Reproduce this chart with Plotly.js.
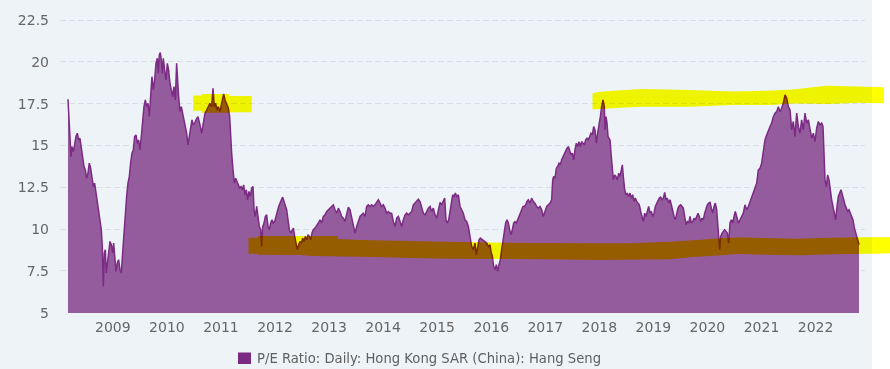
<!DOCTYPE html>
<html>
<head>
<meta charset="utf-8">
<script src="https://cdn.plot.ly/plotly-3.0.1.min.js"></script>
<style>
  html, body { margin: 0; padding: 0; background: #ffffff; }
  #chart { width: 890px; height: 369px; }
  .layer-above .shapelayer path { mix-blend-mode: multiply; }
</style>
</head>
<body>
<div id="chart"></div>
<script>
// ---- DATA ----
// time in decimal years
const t = [
2008.170,2008.189,2008.207,2008.226,2008.244,2008.269,2008.293,2008.318,2008.343,2008.367,
2008.392,2008.417,2008.441,2008.466,2008.491,2008.515,2008.540,2008.565,2008.589,2008.614,
2008.639,2008.663,2008.688,2008.713,2008.737,2008.762,2008.787,2008.805,2008.824,2008.842,
2008.861,2008.879,2008.904,2008.929,2008.947,2008.972,2008.996,2009.015,2009.033,2009.058,
2009.083,2009.107,2009.132,2009.157,2009.181,2009.206,2009.231,2009.255,2009.280,2009.305,
2009.329,2009.354,2009.379,2009.403,2009.428,2009.453,2009.477,2009.502,2009.527,2009.551,
2009.576,2009.601,2009.625,2009.650,2009.675,2009.699,2009.724,2009.749,2009.773,2009.798,
2009.823,2009.841,2009.860,2009.878,2009.897,2009.915,2009.934,2009.958,2009.983,2010.008,
2010.032,2010.057,2010.082,2010.106,2010.131,2010.156,2010.180,2010.199,2010.217,2010.242,
2010.267,2010.291,2010.316,2010.341,2010.365,2010.390,2010.415,2010.439,2010.464,2010.489,
2010.513,2010.538,2010.575,
2010.612,2010.643,2010.674,2010.705,2010.736,2010.767,2010.797,2010.828,2010.853,2010.877,
2010.902,2010.927,2010.952,2010.982,2011.013,2011.050,2011.075,2011.106,2011.137,2011.161,
2011.174,2011.198,2011.223,2011.248,2011.272,2011.297,2011.322,2011.346,2011.371,2011.396,
2011.420,2011.445,2011.470,2011.494,2011.519,2011.544,2011.568,2011.593,2011.612,2011.636,
2011.661,2011.686,2011.710,2011.735,2011.753,2011.772,2011.797,2011.821,2011.846,2011.871,
2011.895,2011.920,2011.945,2011.969,2011.994,2012.019,2012.043,2012.068,2012.093,2012.117,
2012.142,2012.167,2012.191,2012.216,2012.241,2012.265,2012.290,2012.315,2012.339,2012.364,
2012.389,2012.413,2012.438,2012.463,2012.487,2012.512,2012.537,2012.561,2012.586,2012.611,
2012.635,2012.660,2012.685,2012.709,2012.740,2012.771,2012.802,2012.833,2012.863,2012.894,
2012.925,2012.956,2012.987,2013.018,
2013.048,2013.079,2013.110,2013.141,2013.172,2013.203,2013.233,2013.264,2013.295,2013.326,
2013.357,2013.388,2013.418,2013.449,2013.480,2013.511,2013.542,2013.573,2013.603,2013.634,
2013.665,2013.696,2013.727,2013.758,2013.788,2013.819,2013.850,2013.881,2013.912,2013.943,
2013.973,2014.004,2014.035,2014.066,2014.097,2014.128,2014.158,2014.189,2014.220,2014.251,
2014.282,2014.313,2014.343,2014.374,2014.405,2014.436,2014.467,2014.498,2014.528,2014.559,
2014.590,2014.621,2014.652,2014.683,2014.713,2014.744,2014.775,2014.806,2014.837,2014.868,
2014.898,2014.929,2014.960,2014.991,2015.022,2015.053,2015.083,2015.114,2015.139,2015.163,
2015.188,2015.213,2015.238,2015.262,2015.287,2015.312,2015.337,2015.361,2015.392,2015.423,
2015.453,2015.484,
2015.515,2015.546,2015.577,2015.608,2015.638,2015.669,2015.700,2015.725,2015.749,2015.774,
2015.799,2015.823,2015.854,2015.885,2015.916,2015.947,2015.978,2015.996,2016.021,2016.045,
2016.070,2016.095,2016.119,2016.144,2016.169,2016.193,2016.218,2016.243,2016.267,2016.292,
2016.317,2016.341,2016.366,2016.391,2016.415,2016.440,2016.465,2016.489,2016.514,2016.539,
2016.563,2016.588,2016.613,2016.637,2016.662,2016.687,2016.718,2016.748,2016.779,2016.810,
2016.841,2016.872,2016.903,2016.933,2016.964,2016.995,2017.026,2017.057,2017.088,2017.118,
2017.137,2017.155,2017.180,2017.205,2017.229,2017.254,2017.279,2017.303,2017.328,2017.353,
2017.377,2017.402,2017.427,2017.451,2017.476,2017.501,2017.525,2017.550,2017.575,2017.599,
2017.624,2017.649,2017.673,2017.698,2017.723,2017.747,2017.772,2017.797,2017.821,2017.846,
2017.871,2017.895,2017.920,2017.945,2017.969,2017.994,2018.019,2018.043,2018.068,2018.093,
2018.105,
2018.124,2018.142,2018.161,2018.179,2018.198,2018.216,2018.235,2018.259,2018.284,2018.309,
2018.333,2018.358,2018.383,2018.407,2018.426,2018.444,2018.469,2018.494,2018.518,2018.543,
2018.568,2018.592,2018.617,2018.642,2018.666,2018.691,2018.716,2018.740,2018.765,2018.790,
2018.814,2018.839,2018.864,2018.888,2018.913,2018.938,2018.962,2018.987,2019.012,2019.036,
2019.061,2019.086,2019.110,2019.135,2019.160,2019.184,2019.209,2019.234,2019.258,2019.283,
2019.308,2019.332,2019.357,2019.382,2019.406,2019.431,2019.456,2019.480,2019.505,2019.530,
2019.554,2019.579,2019.604,2019.628,2019.653,2019.678,2019.702,2019.727,2019.752,2019.776,
2019.801,2019.826,2019.850,2019.875,2019.900,2019.924,2019.949,2019.974,2019.998,2020.023,
2020.048,2020.072,2020.097,2020.122,2020.146,2020.171,2020.189,2020.208,2020.226,2020.245,
2020.270,2020.294,2020.319,2020.344,2020.368,2020.393,2020.418,2020.442,2020.467,2020.492,
2020.516,
2020.541,2020.572,2020.603,2020.633,2020.664,2020.695,2020.726,2020.757,2020.788,2020.818,
2020.849,2020.880,2020.911,2020.942,2020.973,2021.003,2021.034,2021.065,2021.096,2021.127,
2021.158,2021.188,2021.219,2021.250,2021.281,2021.312,2021.343,2021.373,2021.404,2021.435,
2021.466,2021.497,2021.528,2021.558,2021.589,2021.620,2021.651,2021.682,2021.713,2021.743,
2021.774,2021.805,2021.836,2021.867,2021.898,2021.928,2021.959,2021.990,2022.021,2022.052,
2022.083,2022.113,2022.138,2022.157,2022.175,2022.200,2022.224,2022.249,2022.274,2022.298,
2022.323,2022.348,2022.372,2022.397,2022.422,2022.446,2022.471,2022.496,2022.520,2022.545,
2022.570,2022.594,2022.619,2022.644,2022.668,2022.693,2022.718,2022.742,2022.767,2022.792,
2022.804
];
// P/E ratio values
const pe = [
17.76,16.53,15.33,14.33,14.93,14.63,15.03,15.53,15.73,15.33,
15.43,14.73,14.44,13.74,13.54,13.04,13.34,13.94,13.64,12.94,
12.54,12.74,12.15,11.55,11.15,10.55,9.96,8.96,6.57,8.57,
8.76,7.37,8.17,8.57,9.26,9.06,8.57,9.16,8.36,7.47,
7.97,8.17,7.57,7.37,8.57,9.76,11.35,11.95,12.74,13.14,
13.94,14.54,14.73,15.53,15.63,15.13,15.33,14.73,15.53,16.72,
17.32,17.72,17.32,17.52,16.72,17.92,19.11,18.32,18.91,19.91,
20.21,19.31,20.41,20.55,20.11,19.31,20.21,19.51,18.91,19.91,
19.51,18.72,18.32,17.92,18.52,17.72,19.91,18.52,17.92,17.02,
17.32,16.93,16.53,16.13,15.73,15.03,15.53,15.93,16.53,16.23,
16.33,16.53,16.72,
16.23,15.73,16.33,16.93,17.12,17.32,17.52,17.32,18.42,17.32,
17.52,17.12,17.32,17.02,17.52,18.08,17.72,17.42,17.22,16.72,
15.53,14.54,13.54,12.74,13.04,12.84,12.64,12.45,12.54,12.35,
12.64,12.05,12.35,11.75,12.25,11.95,12.45,12.54,11.15,10.75,
11.35,10.75,10.15,9.96,8.96,10.15,10.36,10.75,10.85,10.15,
9.96,10.36,10.55,10.36,10.45,10.75,11.15,11.35,11.55,11.75,
11.91,11.65,11.35,11.15,10.55,9.96,9.76,9.96,10.06,9.56,
9.16,8.76,9.06,9.26,9.16,9.46,9.26,9.56,9.36,9.66,
9.56,9.36,9.76,9.96,10.06,10.26,10.36,10.55,10.36,10.75,
10.85,11.05,11.15,11.25,
11.35,11.45,11.15,10.95,11.25,11.05,10.75,10.65,10.45,10.95,
11.31,11.15,10.75,10.36,9.76,10.15,10.45,10.75,10.85,10.95,
10.75,11.35,11.45,11.35,11.45,11.35,11.45,11.65,11.75,11.55,
11.35,11.45,11.25,10.95,11.05,10.95,10.95,10.45,10.15,10.65,
10.75,10.45,10.15,10.55,10.85,10.95,10.85,10.95,11.05,11.45,
11.55,11.65,11.79,11.65,11.25,10.95,10.85,11.05,11.25,11.35,
11.05,11.25,10.85,10.65,11.25,11.59,11.45,11.65,11.85,10.55,
10.36,10.55,11.15,11.75,12.05,11.95,12.15,11.95,12.05,11.35,
11.15,10.95,
10.55,10.45,10.15,9.56,8.96,8.76,9.16,8.46,8.96,9.36,
9.46,9.40,9.36,9.26,9.16,8.96,9.06,8.66,8.36,7.77,
7.57,7.87,7.47,7.87,8.17,8.76,9.36,9.96,10.36,10.55,
10.36,9.96,9.66,9.96,10.36,10.45,10.36,10.55,10.75,10.95,
11.05,11.35,11.35,11.45,11.65,11.75,11.55,11.85,11.65,11.55,
11.35,11.25,11.35,11.15,10.75,11.05,11.35,11.45,11.55,11.75,
12.94,13.14,13.04,13.64,13.74,13.94,13.84,14.14,14.33,14.54,
14.63,14.83,14.93,14.63,14.44,14.54,14.14,14.73,15.13,14.93,
15.23,14.93,15.23,15.13,15.03,15.33,15.43,15.33,15.53,15.73,
15.63,16.13,15.93,15.13,15.73,16.13,16.72,17.32,17.72,17.32,
15.93,
16.72,16.33,15.53,15.43,15.33,14.54,13.74,12.94,13.24,13.14,
12.94,13.34,13.14,13.54,13.84,13.14,12.35,12.05,12.15,11.95,
12.15,11.85,12.05,11.65,11.85,11.65,11.55,11.45,11.05,10.75,
10.45,10.95,10.75,11.05,11.35,10.95,11.05,10.75,10.95,11.35,
11.55,11.75,11.85,11.91,11.75,11.85,12.19,11.75,11.85,11.55,
11.75,11.45,11.05,10.75,10.55,10.95,11.25,11.39,11.45,11.35,
11.25,10.75,10.26,10.45,10.36,10.75,10.36,10.45,10.65,10.55,
10.75,10.95,10.75,10.45,10.65,10.55,10.95,11.25,11.45,11.55,
11.59,11.25,10.95,11.35,11.55,11.15,10.55,9.56,8.76,9.56,
9.76,9.86,9.96,9.86,9.76,9.16,10.36,10.55,10.36,10.75,
11.05,
10.75,10.36,10.55,10.75,10.95,11.45,11.15,11.35,11.65,11.85,
12.15,12.54,12.74,13.54,13.64,13.94,14.54,15.33,15.63,15.93,
16.13,16.33,16.72,16.93,17.02,17.32,17.02,17.22,17.52,18.02,
17.82,17.32,17.12,15.93,16.43,15.53,16.93,16.13,15.73,16.53,
15.93,16.93,16.33,16.53,15.93,15.43,15.73,15.23,16.03,16.43,
16.23,16.33,16.13,13.94,12.94,12.54,13.24,12.94,12.15,11.75,
11.35,10.95,10.55,11.35,11.95,12.15,12.35,12.05,11.65,11.45,
11.25,11.05,11.15,10.95,10.85,10.55,10.06,9.76,9.56,9.16,
9.06
];
const yearTicks = [2009,2010,2011,2012,2013,2014,2015,2016,2017,2018,2019,2020,2021,2022];
const yearLabels = ["2009","2010","2011","2012","2013","2014","2015","2016","2017","2018","2019","2020","2021","2022"];
const peTicks = [5,7.5,10,12.5,15,17.5,20,22.5];
const peLabels = ["5","7.5","10","12.5","15","17.5","20","22.5"];
const seriesName = "P/E Ratio: Daily: Hong Kong SAR (China): Hang Seng";

// ---- LAYOUT GEOMETRY (pixels) ----
const W = 890, H = 369, ML = 60, MR = 25, MT = 18, MB = 56;
const PW = W - ML - MR, PH = H - MT - MB;
const px = x => (x - ML) / PW;
const py = y => (H - MB - y) / PH;
function pathFromPixels(pts) {
  return pts.map((p, i) => (i ? 'L' : 'M') + px(p[0]).toFixed(5) + ',' + py(p[1]).toFixed(5)).join(' ') + ' Z';
}

// hand-drawn yellow highlights (pixel polygons)
const hlA = [[193.3,95.5],[201.7,95.5],[201.7,94],[229,94],[229,96],[251.7,96],[251.7,112.3],[229,112.3],[229,112.8],[201.7,112.8],[201.7,110.7],[193.3,110.7]];
const hlB = [[592.5,93.5],[598,92],[617,90.5],[642,89],[690,90],[733,91.5],[772,90.5],[793,89.5],[817,86.8],[827,85.8],[858,86.5],[884,87.3],
             [884,103.3],[858,102.7],[828,104],[793,103.5],[772,105],[733,105],[690,106.7],[642,106.7],[620,107.7],[592.5,109.5]];
const hlC = [[248.5,237.7],[258,237.7],[258,236],[338,236],[338,239],[360,240],[398,240.7],[445,241.7],[503,242.7],[600,243.3],[630,243.3],[670,241.7],[697,240],[720,238.3],[740,237.3],[763,238],[797,238.7],[817,238],[857,237.3],[890,237.3],
             [890,253.3],[873,253.7],[848,254],[813,254.7],[803,255.3],[767,254.7],[738,254],[710,256],[690,257.3],[670,259.3],[600,260],[543,259.3],[445,258.7],[403,257.7],[358,256.7],[313,256],[300,255],[258,254.7],[258,253.7],[248.5,253.7]];

const hl = p => ({type:'path', xref:'paper', yref:'paper', path: pathFromPixels(p), fillcolor:'#ffff00', line:{width:0}, layer:'above'});

const shapes = [
  {type:'rect', xref:'paper', yref:'paper', x0:px(0), x1:px(872), y0:py(H), y1:py(0), fillcolor:'#eef3f8', line:{width:0}, layer:'below'},
  {type:'rect', xref:'paper', yref:'paper', x0:px(238), x1:px(251), y0:py(364), y1:py(352.5), fillcolor:'#7b2a84', line:{width:0}, layer:'below'},
  hl(hlA), hl(hlB), hl(hlC)
];

const trace = {
  type:'scatter', mode:'lines', x:t, y:pe, name:seriesName,
  fill:'tozeroy', fillcolor:'#955c9d',
  line:{color:'#7b2b83', width:1.5},
  showlegend:false, hoverinfo:'skip'
};

const font = {family:'"DejaVu Sans", Verdana, sans-serif', size:14, color:'#666666'};

const layout = {
  width:W, height:H,
  margin:{l:ML, r:MR, t:MT, b:MB, pad:0},
  paper_bgcolor:'#ffffff', plot_bgcolor:'rgba(0,0,0,0)',
  font:font, showlegend:false,
  xaxis:{type:'linear', range:[2008.0225, 2022.915], tickmode:'array', tickvals:yearTicks, ticktext:yearLabels,
         showgrid:false, zeroline:false, showline:false, ticks:'', ticklabelstandoff:4, tickfont:font, fixedrange:true},
  yaxis:{range:[4.98,22.62], tickmode:'array', tickvals:peTicks, ticktext:peLabels,
         showgrid:true, gridcolor:'#d9dee4', gridwidth:1, griddash:'6px,3px',
         zeroline:false, showline:false, ticks:'', ticklabelstandoff:10, tickfont:font, fixedrange:true},
  shapes:shapes,
  annotations:[{xref:'paper', yref:'paper', x:px(255), y:py(358.5), xanchor:'left', yanchor:'middle',
                text:seriesName, showarrow:false, font:{family:'"DejaVu Sans", Verdana, sans-serif', size:13.2, color:'#5f5f5f'}}]
};

Plotly.newPlot('chart', [trace], layout, {displayModeBar:false, staticPlot:true});
</script>
</body>
</html>
